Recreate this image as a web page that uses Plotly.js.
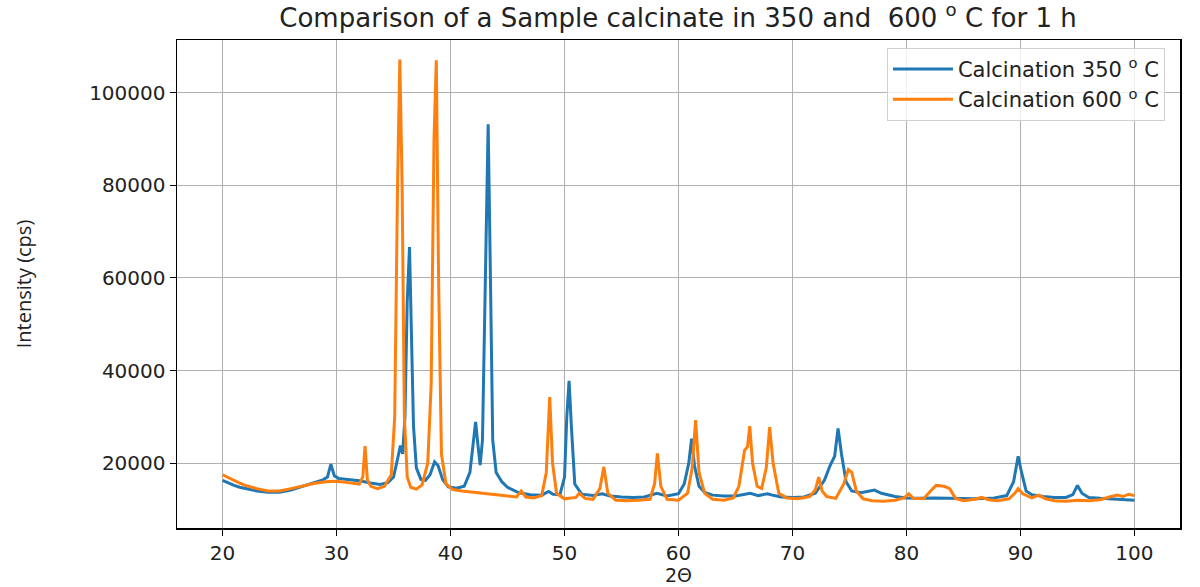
<!DOCTYPE html>
<html>
<head>
<meta charset="utf-8">
<script src="https://cdn.plot.ly/plotly-3.0.1.min.js"></script>
<style>html,body{margin:0;padding:0;background:#fff;}#chart{width:1200px;height:587px;}</style>
</head>
<body>
<div id="chart"></div>
<script>
// Calcination 350 °C
const x350 = [20.0,20.5,21.0,21.5,22.0,23.0,24.0,25.0,26.0,27.0,28.0,28.8,29.2,29.5,29.8,30.2,31.0,32.0,33.0,33.8,34.5,35.0,35.4,35.6,35.8,36.0,36.2,36.4,36.55,36.75,37.0,37.4,37.8,38.2,38.6,38.9,39.3,39.8,40.5,41.2,41.7,42.0,42.2,42.4,42.6,42.8,43.0,43.3,43.5,43.7,44.0,44.5,45.0,46.0,47.0,48.0,48.6,49.0,49.6,50.0,50.2,50.4,50.6,50.9,51.5,52.5,53.3,54.0,55.0,56.0,57.0,58.1,59.0,60.0,60.5,60.9,61.15,61.4,61.8,62.3,63.0,64.0,65.0,65.8,66.3,67.0,67.8,68.4,69.0,70.0,71.0,72.0,72.8,73.3,73.7,74.0,74.3,74.7,75.2,76.0,77.2,77.8,79.0,80.0,81.0,82.5,83.5,84.5,86.0,87.5,88.8,89.4,89.8,90.1,90.5,91.0,92.0,93.0,94.0,94.6,95.0,95.4,96.0,97.0,98.0,99.0,100.0];
const y350 = [16300,15700,15200,14800,14500,14000,13700,13700,14200,15000,15900,16400,17000,19800,17300,16700,16500,16200,15700,15400,15800,17000,21500,23800,22000,30000,55000,66700,50000,28000,19000,16500,16300,17500,20300,19500,16500,14900,14600,15000,18000,24000,28900,24000,19600,25000,50000,93200,60000,25000,18000,16000,14800,13600,13200,13100,13900,13300,13200,17000,30000,37800,28000,15500,13300,13000,13400,12900,12700,12600,12700,13500,12900,13400,15500,20000,25300,19500,15000,13700,13100,12900,12900,13300,13500,13000,13400,13000,12700,12600,12700,13500,16300,19500,21500,27500,22000,16000,14000,13600,14200,13500,12800,12500,12400,12500,12400,12300,12300,12400,13000,16000,21500,18000,14000,13200,12800,12600,12600,13200,15200,13500,12600,12400,12300,12200,12000];

// Calcination 600 °C
const x600 = [20.0,20.5,21.0,21.5,22.0,23.0,24.0,25.0,26.0,27.0,28.0,29.0,30.0,31.0,32.0,32.3,32.5,32.7,33.0,33.6,34.2,34.8,35.1,35.35,35.55,35.75,35.95,36.2,36.5,37.0,37.5,38.0,38.3,38.55,38.75,38.95,39.2,39.6,40.2,41.0,42.0,43.0,44.0,45.0,45.8,46.2,46.6,47.3,48.0,48.4,48.7,48.95,49.3,50.0,51.0,51.3,51.8,52.5,53.1,53.45,53.8,54.5,55.5,56.5,57.5,57.9,58.15,58.45,59.0,60.0,60.8,61.2,61.5,61.8,62.3,63.0,64.0,64.8,65.3,65.8,66.05,66.25,66.5,66.9,67.3,67.7,68.0,68.3,68.8,69.5,70.5,71.5,72.0,72.3,72.6,73.0,73.8,74.5,74.9,75.2,75.6,76.2,77.0,78.0,79.0,79.8,80.2,80.6,81.5,82.2,82.6,83.3,83.8,84.3,85.0,86.0,86.6,87.2,88.0,89.0,89.5,89.8,90.2,91.0,91.6,92.2,93.0,94.0,95.0,96.0,97.0,97.8,98.5,99.0,99.5,100.0];
const y600 = [17500,16900,16200,15700,15200,14500,14000,14000,14500,15100,15600,16000,16100,15800,15500,17000,23700,16500,15000,14500,15000,17500,30000,80000,107200,80000,30000,17000,14800,14400,15300,20000,37000,90000,107000,60000,22000,15500,14300,14000,13700,13500,13200,12900,12700,14000,12700,12500,13000,18000,34300,20000,13500,12300,12600,13500,12400,12200,14500,19200,13500,12000,11900,12000,12200,15500,22100,15000,12200,12000,13500,19000,29300,18000,13500,12200,12000,12500,15000,22800,23500,28000,20000,15000,14500,19000,27800,20000,13500,12500,12300,12800,14200,17000,14000,12800,12400,15500,18600,18000,14000,12300,11900,11800,12000,12500,13400,12400,12300,14200,15200,15000,14500,12400,11900,12200,12600,12100,11900,12300,13500,14500,13400,12500,13100,12300,11900,11800,12000,11900,12100,12700,13100,12800,13300,13000];

const seriesNames = ['Calcination 350 <sup>o</sup> C', 'Calcination 600 <sup>o</sup> C'];
const xTicks = [20,30,40,50,60,70,80,90,100];
const yTicks = [20000,40000,60000,80000,100000];

const font = 'DejaVu Sans, sans-serif';
const traces = [
  {x: x350, y: y350, name: seriesNames[0], type: 'scatter', mode: 'lines', line: {color: '#1f77b4', width: 3}},
  {x: x600, y: y600, name: seriesNames[1], type: 'scatter', mode: 'lines', line: {color: '#ff7f0e', width: 3}}
];
const layout = {
  width: 1200, height: 587,
  paper_bgcolor: '#fff', plot_bgcolor: '#fff',
  margin: {l: 177, r: 20, t: 40, b: 59},
  font: {family: font, color: '#222', size: 20},
  title: {text: 'Comparison of a Sample calcinate in 350 and  600 <sup>o</sup> C for 1 h', font: {family: font, size: 26, color: '#222'}, x: 0.565, xanchor: 'center', y: 0.985, yanchor: 'top'},
  xaxis: {
    range: [16, 104], tickvals: xTicks, ticktext: xTicks.map(String),
    showgrid: true, gridcolor: '#b0b0b0', gridwidth: 1,
    showline: true, linecolor: '#000', linewidth: 1.5, mirror: true,
    ticks: 'outside', ticklen: 6, tickcolor: '#000', zeroline: false,
    tickfont: {family: font, size: 20, color: '#222'},
    title: {text: '2Θ', font: {family: font, size: 19, color: '#222'}, standoff: 2}
  },
  yaxis: {
    range: [6000, 111400], tickvals: yTicks, ticktext: yTicks.map(String),
    showgrid: true, gridcolor: '#b0b0b0', gridwidth: 1,
    showline: true, linecolor: '#000', linewidth: 1.5, mirror: true,
    ticks: 'outside', ticklen: 6, tickcolor: '#000', zeroline: false,
    tickfont: {family: font, size: 20, color: '#222'},
    title: {text: 'Intensity (cps)', font: {family: 'Open Sans, sans-serif', size: 20, color: '#222'}, standoff: 52}
  },
  showlegend: true,
  legend: {x: 0.985, xanchor: 'right', y: 0.984, yanchor: 'top', bgcolor: 'rgba(255,255,255,0.8)', bordercolor: '#d0d0d0', borderwidth: 1, font: {family: font, size: 21, color: '#222'}, itemwidth: 60, tracegroupgap: 6}
};
Plotly.newPlot('chart', traces, layout, {displayModeBar: false, staticPlot: true});
</script>
</body>
</html>
